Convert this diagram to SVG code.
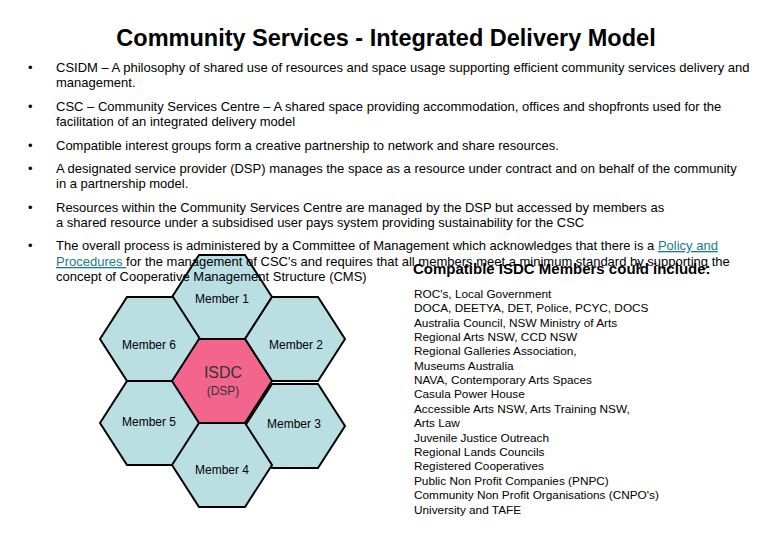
<svg xmlns="http://www.w3.org/2000/svg" width="780" height="540" viewBox="0 0 780 540">
<style>
text{font-family:"Liberation Sans",Arial,sans-serif;fill:#000}
.b{font-size:13px}
.r{font-size:11.8px}
.m{font-size:12px;text-anchor:middle}
.hex{fill:#b9dfe3;stroke:#000;stroke-width:2}
.a{fill:#1b7c88;text-decoration:underline}
</style>
<defs><polygon id="h" points="-50,0 -23,-42 23,-42 50,0 23,42 -23,42"/></defs>
<rect width="780" height="540" fill="#fff"/>
<g id="hexes">
<g id="member1"><use href="#h" class="hex" x="222" y="297"/><text class="m" x="222" y="303">Member 1</text></g>
<g id="member6"><use href="#h" class="hex" x="150" y="339"/><text class="m" x="149" y="349">Member 6</text></g>
<g id="member2"><use href="#h" class="hex" x="295" y="339"/><text class="m" x="296" y="349">Member 2</text></g>
<g id="member5"><use href="#h" class="hex" x="150" y="423"/><text class="m" x="149" y="426">Member 5</text></g>
<g id="member3"><use href="#h" class="hex" x="295" y="426"/><text class="m" x="294" y="428">Member 3</text></g>
<g id="member4"><use href="#h" class="hex" x="222" y="465"/><text class="m" x="222" y="474">Member 4</text></g>
<g id="isdc"><use href="#h" x="222" y="381" style="fill:#f2668e;stroke:#000;stroke-width:2"/>
<text x="223" y="378" style="font-size:16px;text-anchor:middle;fill:#333">ISDC</text>
<text x="223" y="395" style="font-size:12px;text-anchor:middle;fill:#333">(DSP)</text></g>
</g>
<g id="connectors"/>
<text x="386" y="46" style="font-size:23.5px;font-weight:bold;text-anchor:middle">Community Services - Integrated Delivery Model</text>
<g id="bullets" class="b">
<text x="28" y="72">•</text><text x="56" y="72">CSIDM – A philosophy of shared use of resources and space usage supporting efficient community services delivery and</text>
<text x="56" y="87">management.</text>
<text x="28" y="111">•</text><text x="56" y="111">CSC – Community Services Centre – A shared space providing accommodation, offices and shopfronts used for the</text>
<text x="56" y="126">facilitation of an integrated delivery model</text>
<text x="28" y="150">•</text><text x="56" y="150">Compatible interest groups form a creative partnership to network and share resources.</text>
<text x="28" y="173">•</text><text x="56" y="173">A designated service provider (DSP) manages the space as a resource under contract and on behalf of the community</text>
<text x="56" y="188">in a partnership model.</text>
<text x="28" y="212">•</text><text x="56" y="212">Resources within the Community Services Centre are managed by the DSP but accessed by members as</text>
<text x="56" y="227">a shared resource under a subsidised user pays system providing sustainability for the CSC</text>
<text x="28" y="250">•</text><text x="56" y="250">The overall process is administered by a Committee of Management which acknowledges that there is a <tspan class="a">Policy and</tspan></text>
<text x="56" y="266"><tspan class="a">Procedures </tspan>for the management of CSC's and requires that all members meet a minimum standard by supporting the</text>
<text x="56" y="281">concept of Cooperative Management Structure (CMS)</text>
</g>
<text x="413" y="274" style="font-size:15px;font-weight:bold">Compatible ISDC Members could include:</text>
<g id="list" class="r">
<text x="414" y="298">ROC's, Local Government</text>
<text x="414" y="312">DOCA, DEETYA, DET, Police, PCYC, DOCS</text>
<text x="414" y="327">Australia Council, NSW Ministry of Arts</text>
<text x="414" y="341">Regional Arts NSW, CCD NSW</text>
<text x="414" y="355">Regional Galleries Association,</text>
<text x="414" y="370">Museums Australia</text>
<text x="414" y="384">NAVA, Contemporary Arts Spaces</text>
<text x="414" y="398">Casula Power House</text>
<text x="414" y="413">Accessible Arts NSW, Arts Training NSW,</text>
<text x="414" y="427">Arts Law</text>
<text x="414" y="442">Juvenile Justice Outreach</text>
<text x="414" y="456">Regional Lands Councils</text>
<text x="414" y="470">Registered Cooperatives</text>
<text x="414" y="485">Public Non Profit Companies (PNPC)</text>
<text x="414" y="499">Community Non Profit Organisations (CNPO's)</text>
<text x="414" y="514">University and TAFE</text>
</g>
</svg>
